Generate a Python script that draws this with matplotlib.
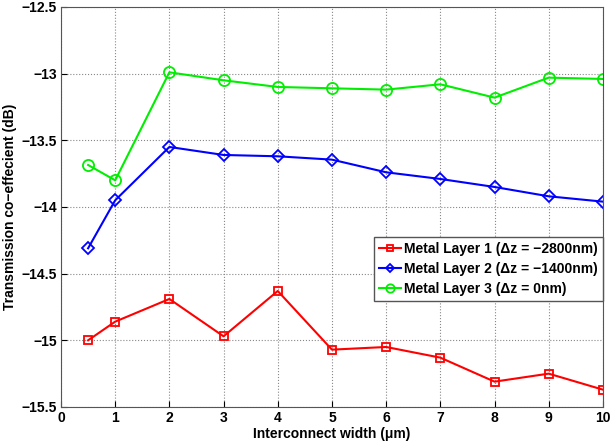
import numpy as np
import matplotlib.pyplot as plt

plt.rcParams['font.family'] = ['Liberation Sans', 'DejaVu Sans']
plt.rcParams['font.weight'] = 'bold'

x = [0.5, 1, 2, 3, 4, 5, 6, 7, 8, 9, 10]
layer1 = [-15.00, -14.86, -14.69, -14.97, -14.63, -15.07, -15.05, -15.13, -15.31, -15.25, -15.37]
layer2 = [-14.31, -13.95, -13.55, -13.61, -13.62, -13.645, -13.74, -13.79, -13.85, -13.92, -13.96]
layer3 = [-13.685, -13.80, -12.99, -13.05, -13.10, -13.11, -13.12, -13.08, -13.18, -13.03, -13.04]
labels = ["Metal Layer 1 (\u0394z = \u22122800nm)",
          "Metal Layer 2 (\u0394z = \u22121400nm)",
          "Metal Layer 3 (\u0394z = 0nm)"]

fig = plt.figure(figsize=(6.13, 4.43), dpi=100)
ax = fig.add_axes([0.0995, 0.0813, 0.884, 0.903])
ax.plot(x, layer1, '-s', color='#ff0000', mfc='none', ms=6, lw=1.5, mew=1.3, label=labels[0])
ax.plot(x, layer2, '-D', color='#0000ff', mfc='none', ms=6, lw=1.5, mew=1.3, label=labels[1])
ax.plot(x, layer3, '-o', color='#00ee00', mfc='none', ms=8, lw=1.5, mew=1.3, label=labels[2])
ax.set_xlim(0, 10)
ax.set_ylim(-15.5, -12.5)
ax.set_xticks(range(0, 11))
ax.set_yticks(np.arange(-15.5, -12.4, 0.5))
ax.set_yticklabels(['\u221215.5', '\u221215', '\u221214.5', '\u221214', '\u221213.5', '\u221213', '\u221212.5'])
ax.tick_params(direction='in', labelsize=10, length=4, pad=3)
ax.grid(True, linestyle=':', color='#888888', lw=0.8)
for s in ax.spines.values():
    s.set_color('#555555')
ax.set_xlabel('Interconnect width (\u03bcm)', fontsize=10, fontweight='bold', labelpad=1)
ax.set_ylabel('Transmission co\u2212effecient (dB)', fontsize=10, fontweight='bold', labelpad=3)
leg = ax.legend(loc='upper right', bbox_to_anchor=(1.0, 0.425), fontsize=10, fancybox=False,
                framealpha=1, edgecolor='#555555', handlelength=1.6, handletextpad=0.2,
                borderpad=0.35, labelspacing=0.45, borderaxespad=0, markerscale=0.75)
leg.get_frame().set_linewidth(1.0)
plt.savefig('out.png', dpi=100)
